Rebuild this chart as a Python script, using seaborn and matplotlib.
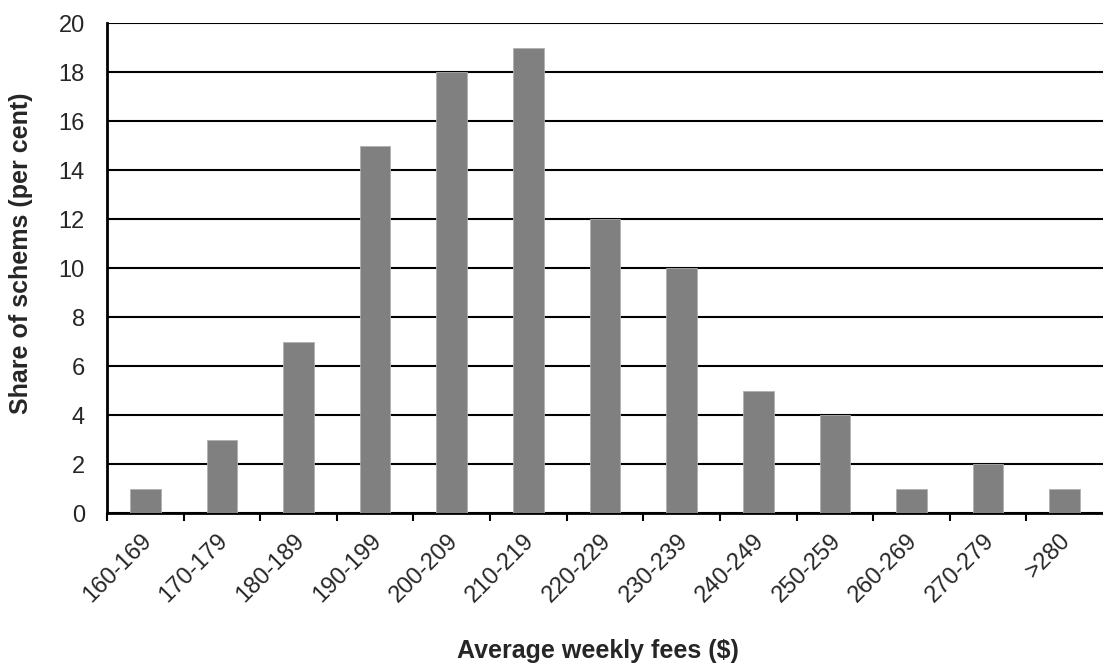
import matplotlib
matplotlib.use("Agg")
import matplotlib.pyplot as plt
import matplotlib.transforms as mtransforms
import seaborn as sns
import pandas as pd
import numpy as np

# Distribution of schemes by average weekly fee band
fee_bands = ["160-169", "170-179", "180-189", "190-199", "200-209", "210-219",
             "220-229", "230-239", "240-249", "250-259", "260-269", "270-279", ">280"]
share_pct = [1, 3, 7, 15, 18, 19, 12, 10, 5, 4, 1, 2, 1]

sns.set_theme(style="white")
plt.rcParams["font.family"] = ["Liberation Sans", "DejaVu Sans"]

df = pd.DataFrame({"band": fee_bands, "share": share_pct})

fig = plt.figure(figsize=(11.03, 6.63), dpi=100)
ax = fig.add_axes([0.097, 0.2262, 0.903, 0.7391])

sns.barplot(data=df, x="band", y="share", color="#808080", saturation=1,
            width=0.4, edgecolor="#b0b0b0", linewidth=0.6, ax=ax, zorder=3)

ax.set_xlim(-0.5, len(fee_bands) - 0.5)
ax.set_ylim(0, 20)
ax.set_yticks(np.arange(0, 21, 2))
ax.yaxis.grid(True, color="black", linewidth=1.5, zorder=0)
ax.set_axisbelow(True)

# tick marks sit on the boundaries between bands; labels under each band
ax.set_xticks(np.arange(len(fee_bands)))
ax.set_xticklabels(fee_bands, rotation=45, ha="right", rotation_mode="anchor")
ax.set_xticks(np.arange(len(fee_bands)) - 0.5, minor=True)
ax.tick_params(axis="x", which="major", length=0, labelsize=17, pad=12)
ax.tick_params(axis="x", which="minor", length=6, width=1.5, color="black",
               direction="out", bottom=True)
ax.tick_params(axis="y", length=0, labelsize=17, pad=16)

# nudge the slanted band labels slightly to the left
shift = mtransforms.ScaledTranslation(-5 / 100, 0, fig.dpi_scale_trans)
for lbl in ax.get_xticklabels():
    lbl.set_transform(lbl.get_transform() + shift)

for side in ["top", "right"]:
    ax.spines[side].set_visible(False)
for side in ["left", "bottom"]:
    ax.spines[side].set_color("black")
    ax.spines[side].set_linewidth(2)

ax.set_xlabel("Average weekly fees ($)", fontsize=18, fontweight="bold")
ax.set_ylabel("Share of schems (per cent)", fontsize=18, fontweight="bold")
ax.xaxis.set_label_coords(0.493, -0.257)
ax.xaxis.label.set_va("top")
ax.yaxis.set_label_coords(-0.0743, 0.53)

fig.savefig("out.png", dpi=100)
